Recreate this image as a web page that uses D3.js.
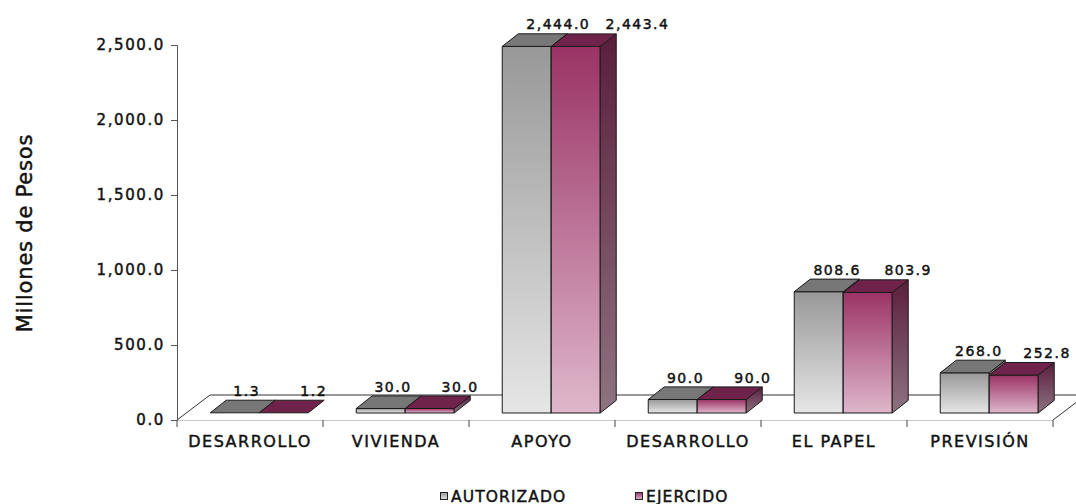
<!DOCTYPE html>
<html>
<head>
<meta charset="utf-8">
<script src="https://cdn.jsdelivr.net/npm/d3@7/dist/d3.min.js"></script>
<style>
  html, body { margin: 0; padding: 0; background: #ffffff; }
  svg { display: block; }
  text { font-family: "DejaVu Sans", sans-serif; fill: #111; stroke: #111; stroke-width: 0.45px; }
</style>
</head>
<body>
<svg id="chart" width="1076" height="504"></svg>
<script>
// Budget per programme, millions of pesos
const categories = ["DESARROLLO", "VIVIENDA", "APOYO", "DESARROLLO", "EL PAPEL", "PREVISIÓN"];
const autorizado = [1.3, 30.0, 2444.0, 90.0, 808.6, 268.0];
const ejercido   = [1.2, 30.0, 2443.4, 90.0, 803.9, 252.8];
const seriesNames = ["AUTORIZADO", "EJERCIDO"];
const yTicks = [0, 500, 1000, 1500, 2000, 2500];
const yTitle = "Millones de Pesos";

const svg = d3.select("#chart");
const fmt = d3.format(",.1f");

// plot frame
const plotLeft = 177, plotRight = 1053, plotBottom = 420, plotTop = 45;
const floorDepth = { dx: 33, dy: -25 };   // depth of the 3-D floor
const barShift  = { dx: 9.24, dy: -7 };   // front face of the bars inside the floor
const barDepth  = { dx: 16, dy: -12.6 };  // depth of each bar

const x = d3.scaleBand().domain(d3.range(categories.length)).range([plotLeft, plotRight]).padding(0);
const inner = d3.scaleBand().domain(seriesNames).range([0, x.bandwidth()]).paddingInner(0).paddingOuter(0.49);
const y = d3.scaleLinear().domain([0, 2500]).range([plotBottom, plotTop]);

// gradients
const defs = svg.append("defs");
function vGrad(id, stops) {
  const g = defs.append("linearGradient").attr("id", id)
    .attr("x1", 0).attr("y1", 0).attr("x2", 0).attr("y2", 1);
  stops.forEach(([o, c]) => g.append("stop").attr("offset", o).attr("stop-color", c));
}
vGrad("grayFront", [[0, "#989898"], [1, "#e6e6e6"]]);
vGrad("pinkFront", [[0, "#9a3365"], [1, "#dfb7cb"]]);
vGrad("pinkSide",  [[0, "#5a1e3c"], [1, "#8e7382"]]);
vGrad("graySide",  [[0, "#6a6a6a"], [1, "#a8a8a8"]]);

// label nudge grows a little with bar height, as the 3-D projection lifts the tops
const styles = {
  AUTORIZADO: { front: "url(#grayFront)", top: "#777777", side: "url(#graySide)", lbl: v => 12 + v * 0.008 },
  EJERCIDO:   { front: "url(#pinkFront)", top: "#6f234a", side: "url(#pinkSide)", lbl: v => 30 + v * 0.013 }
};

// floor
const fl = svg.append("g");
fl.append("path")
  .attr("d", `M${plotLeft},${plotBottom}L${plotLeft + floorDepth.dx},${plotBottom + floorDepth.dy}L${plotRight + floorDepth.dx},${plotBottom + floorDepth.dy}L${plotRight},${plotBottom}Z`)
  .attr("fill", "#ffffff").attr("stroke", "none");
fl.append("line")
  .attr("x1", plotLeft).attr("y1", plotBottom).attr("x2", plotLeft + floorDepth.dx).attr("y2", plotBottom + floorDepth.dy)
  .attr("stroke", "#333").attr("stroke-width", 1);
fl.append("line")
  .attr("x1", plotLeft + floorDepth.dx).attr("y1", plotBottom + floorDepth.dy)
  .attr("x2", plotRight + floorDepth.dx).attr("y2", plotBottom + floorDepth.dy)
  .attr("stroke", "#333").attr("stroke-width", 1);
fl.append("line")
  .attr("x1", plotRight).attr("y1", plotBottom).attr("x2", plotRight + floorDepth.dx).attr("y2", plotBottom + floorDepth.dy)
  .attr("stroke", "#333").attr("stroke-width", 1);
fl.append("line")
  .attr("x1", plotLeft).attr("y1", plotBottom + 0.5).attr("x2", plotRight).attr("y2", plotBottom + 0.5)
  .attr("stroke", "#c8c8c8").attr("stroke-width", 1);

// category ticks along the front edge
const boundaries = d3.range(categories.length + 1).map(i => i < categories.length ? x(i) : x(i - 1) + x.bandwidth());
svg.append("g").selectAll("line").data(boundaries).join("line")
  .attr("x1", d => d).attr("x2", d => d)
  .attr("y1", plotBottom).attr("y2", plotBottom + 7)
  .attr("stroke", "#444").attr("stroke-width", 1);

// category labels
svg.append("g").selectAll("text").data(categories).join("text")
  .attr("x", (d, i) => x(i) + x.bandwidth() / 2)
  .attr("y", 447)
  .attr("text-anchor", "middle")
  .style("font-size", "16px").style("letter-spacing", "1.5px")
  .text(d => d);

// y axis
const yAxis = svg.append("g").attr("transform", `translate(${plotLeft},0)`)
  .call(d3.axisLeft(y).tickValues(yTicks).tickFormat(fmt).tickSize(6).tickPadding(6));
yAxis.select(".domain").attr("stroke", "#555");
yAxis.selectAll(".tick line").attr("stroke", "#555");
yAxis.selectAll(".tick text")
  .attr("fill", "#111").attr("stroke", "#111").attr("stroke-width", 0.45)
  .style("font-family", "'DejaVu Sans', sans-serif")
  .style("font-size", "15px").style("letter-spacing", "1.6px");

// y title
svg.append("text")
  .attr("transform", "translate(32,233) rotate(-90)")
  .attr("text-anchor", "middle")
  .style("font-size", "21px").style("letter-spacing", "0.8px")
  .text(yTitle);

// bars
const bars = svg.append("g");
const rows = categories.map((c, i) => ({ i, values: [autorizado[i], ejercido[i]] }));
const edge = { stroke: "#1a1a1a", "stroke-width": 1, "stroke-linejoin": "round" };
const applyEdge = sel => Object.entries(edge).forEach(([a, b]) => sel.attr(a, b));
rows.forEach(row => {
  seriesNames.forEach((s, k) => {
    const v = row.values[k];
    const st = styles[s];
    const w = inner.bandwidth();
    const fx = x(row.i) + inner(s) + barShift.dx;
    const fy = y(v) + barShift.dy;
    const h = y(0) - y(v);
    const g = bars.append("g");
    if (h > 0.8) {
      applyEdge(g.append("rect").attr("x", fx).attr("y", fy).attr("width", w).attr("height", h).attr("fill", st.front));
      applyEdge(g.append("path")
        .attr("d", `M${fx + w},${fy}L${fx + w + barDepth.dx},${fy + barDepth.dy}L${fx + w + barDepth.dx},${fy + barDepth.dy + h}L${fx + w},${fy + h}Z`)
        .attr("fill", st.side));
    }
    applyEdge(g.append("path")
      .attr("d", `M${fx},${fy}L${fx + barDepth.dx},${fy + barDepth.dy}L${fx + w + barDepth.dx},${fy + barDepth.dy}L${fx + w},${fy}Z`)
      .attr("fill", st.top));

    g.append("text")
      .attr("x", fx + w / 2 + st.lbl(v))
      .attr("y", fy - 17)
      .attr("text-anchor", "middle")
      .style("font-size", "14px").style("letter-spacing", "1.5px")
      .text(fmt(v));
  });
});

// legend
const legend = svg.append("g");
const legendX = [440, 635];
seriesNames.forEach((s, k) => {
  legend.append("rect")
    .attr("x", legendX[k] + 0.5).attr("y", 492.5).attr("width", 7).attr("height", 7)
    .attr("fill", styles[s].front).attr("stroke", "#222").attr("stroke-width", 1);
  legend.append("text")
    .attr("x", legendX[k] + 11).attr("y", 501.5)
    .style("font-size", "15.5px").style("letter-spacing", "1.1px")
    .text(s);
});
</script>
</body>
</html>
